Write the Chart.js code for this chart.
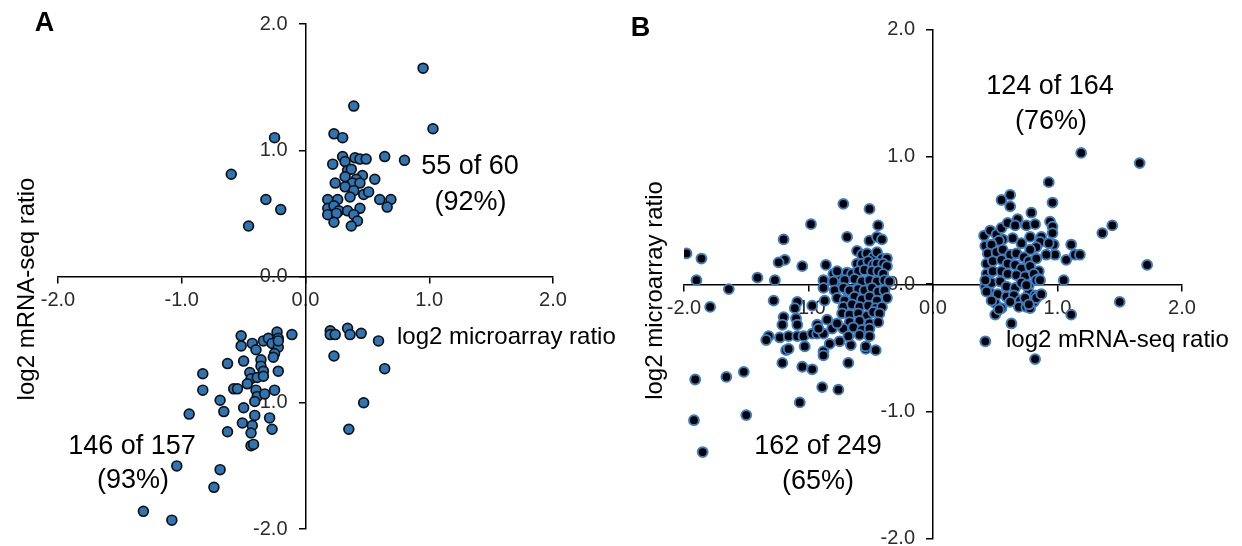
<!DOCTYPE html>
<html><head><meta charset="utf-8">
<script src="https://cdn.jsdelivr.net/npm/chart.js@4.4.1/dist/chart.umd.min.js"></script>
<style>
html,body{margin:0;padding:0;background:#fff;overflow:hidden;width:1242px;height:546px}
#wa,#wb{position:absolute;top:0;width:621px;height:570px}
#wa{left:0}#wb{left:621px}
</style></head><body>
<div id="wa"><canvas id="ca" width="621" height="570"></canvas></div>
<div id="wb"><canvas id="cb" width="621" height="570"></canvas></div>
<script>
// ---------- DATA ----------
const tickValues = [-2, -1, 0, 1, 2];

// Panel A: x = log2 microarray ratio, y = log2 mRNA-seq ratio
const panelA_upperRight = [[0.23,1.13],[0.30,1.10],[0.30,0.95],[0.22,0.89],[0.32,0.91],[0.40,0.94],[0.44,0.93],[0.49,0.93],[0.64,0.95],[0.80,0.92],[0.34,0.84],[0.37,0.85],[0.32,0.79],[0.46,0.80],[0.56,0.77],[0.41,0.77],[0.24,0.74],[0.38,0.74],[0.32,0.71],[0.44,0.74],[0.39,0.68],[0.47,0.65],[0.51,0.67],[0.36,0.63],[0.18,0.61],[0.26,0.61],[0.60,0.61],[0.69,0.61],[0.66,0.55],[0.18,0.54],[0.23,0.56],[0.27,0.52],[0.34,0.52],[0.44,0.54],[0.18,0.49],[0.25,0.50],[0.39,0.49],[0.23,0.43],[0.42,0.44],[0.37,0.40],[0.95,1.65],[0.39,1.35],[1.03,1.17]];
const panelA_upperLeft = [[-0.25,1.10],[-0.60,0.81],[-0.32,0.61],[-0.20,0.53],[-0.46,0.40]];
const panelA_lowerRight = [[0.20,-0.43],[0.20,-0.46],[0.24,-0.46],[0.34,-0.41],[0.36,-0.46],[0.45,-0.45],[0.59,-0.51],[0.23,-0.63],[0.64,-0.73],[0.47,-1.00],[0.35,-1.21]];
const panelA_lowerLeft = [[-0.52,-0.47],[-0.52,-0.55],[-0.43,-0.53],[-0.40,-0.58],[-0.34,-0.51],[-0.30,-0.49],[-0.23,-0.44],[-0.22,-0.49],[-0.27,-0.53],[-0.22,-0.56],[-0.22,-0.51],[-0.25,-0.61],[-0.26,-0.64],[-0.11,-0.46],[-0.63,-0.69],[-0.50,-0.67],[-0.36,-0.66],[-0.36,-0.71],[-0.83,-0.77],[-0.45,-0.76],[-0.34,-0.75],[-0.22,-0.75],[-0.44,-0.81],[-0.39,-0.80],[-0.34,-0.79],[-0.47,-0.85],[-0.83,-0.90],[-0.58,-0.89],[-0.55,-0.89],[-0.40,-0.90],[-0.39,-0.95],[-0.33,-0.93],[-0.25,-0.90],[-0.69,-0.98],[-0.41,-0.99],[-0.66,-1.07],[-0.50,-1.04],[-0.94,-1.09],[-0.41,-1.10],[-0.29,-1.12],[-0.51,-1.16],[-0.43,-1.18],[-0.27,-1.21],[-0.63,-1.23],[-0.44,-1.24],[-0.44,-1.34],[-0.42,-1.33],[-1.04,-1.50],[-0.69,-1.53],[-0.74,-1.67],[-1.31,-1.86],[-1.08,-1.93]];

// Panel B: x = log2 mRNA-seq ratio, y = log2 microarray ratio
const panelB_left = [[-0.72,0.63],[-0.51,0.59],[-0.98,0.47],[-0.44,0.46],[-0.69,0.37],[-0.51,0.34],[-0.45,0.37],[-0.41,0.35],[-1.20,0.35],[-1.98,0.24],[-1.86,0.20],[-1.19,0.19],[-1.24,0.17],[-1.05,0.14],[-0.86,0.15],[-0.61,0.26],[-1.90,0.03],[-1.41,0.05],[-1.27,0.03],[-1.64,-0.04],[-1.79,-0.18],[-1.28,-0.13],[-1.09,-0.14],[-0.97,-0.17],[-0.88,0.03],[-0.88,-0.03],[-1.20,-0.26],[-1.21,-0.32],[-1.10,-0.27],[-1.09,-0.32],[-1.32,-0.41],[-1.34,-0.44],[-1.23,-0.42],[-1.16,-0.41],[-1.09,-0.41],[-1.04,-0.41],[-0.97,-0.39],[-0.93,-0.39],[-0.88,-0.39],[-1.18,-0.52],[-1.16,-0.51],[-1.03,-0.49],[-0.88,-0.53],[-0.88,-0.56],[-0.83,-0.47],[-0.75,-0.45],[-0.66,-0.48],[-0.54,-0.51],[-0.46,-0.52],[-1.21,-0.62],[-1.05,-0.65],[-0.97,-0.67],[-0.68,-0.62],[-0.89,-0.81],[-0.76,-0.83],[-1.07,-0.93],[-1.52,-0.69],[-1.66,-0.73],[-1.91,-0.75],[-1.92,-1.07],[-1.50,-1.03],[-1.85,-1.32]];
const panelB_leftDense = [[-0.80,0.08],[-0.75,0.07],[-0.69,0.09],[-0.65,0.08],[-0.77,-0.02],[-0.69,-0.05],[-0.57,0.23],[-0.53,0.24],[-0.48,0.21],[-0.45,0.25],[-0.41,0.20],[-0.37,0.20],[-0.61,0.16],[-0.57,0.16],[-0.52,0.18],[-0.48,0.15],[-0.45,0.16],[-0.40,0.16],[-0.37,0.14],[-0.77,0.10],[-0.60,0.10],[-0.55,0.11],[-0.49,0.10],[-0.44,0.10],[-0.40,0.08],[-0.80,0.02],[-0.71,0.03],[-0.63,0.04],[-0.57,0.02],[-0.51,0.03],[-0.45,0.02],[-0.39,0.03],[-0.35,0.02],[-0.79,-0.05],[-0.72,-0.03],[-0.67,-0.05],[-0.60,-0.04],[-0.55,-0.05],[-0.49,-0.03],[-0.44,-0.06],[-0.39,-0.05],[-0.77,-0.11],[-0.71,-0.13],[-0.63,-0.10],[-0.57,-0.12],[-0.51,-0.10],[-0.45,-0.13],[-0.37,-0.11],[-0.72,-0.18],[-0.65,-0.16],[-0.59,-0.18],[-0.52,-0.17],[-0.46,-0.19],[-0.41,-0.18],[-0.73,-0.23],[-0.67,-0.24],[-0.60,-0.23],[-0.53,-0.25],[-0.48,-0.22],[-0.43,-0.23],[-0.67,-0.30],[-0.59,-0.29],[-0.51,-0.31],[-0.44,-0.30],[-0.72,-0.35],[-0.64,-0.34],[-0.57,-0.36],[-0.51,-0.35],[-0.68,-0.41],[-0.59,-0.40],[-0.51,-0.41],[-0.54,-0.49],[-1.11,-0.19],[-0.87,-0.13],[-0.93,-0.32],[-0.92,-0.35],[-0.81,-0.35],[-0.77,-0.31],[-0.85,-0.28]];
const panelB_right = [[1.19,1.03],[1.66,0.95],[0.93,0.80],[0.96,0.64],[0.55,0.66],[0.62,0.70],[0.62,0.61],[0.79,0.56],[1.36,0.40],[1.44,0.46],[1.72,0.15],[1.50,-0.14],[1.11,-0.24],[1.05,0.03],[0.63,-0.31],[0.42,-0.45],[0.82,-0.59],[1.07,0.19],[1.14,0.23],[1.18,0.23],[1.11,0.31],[0.98,0.23],[0.91,0.23],[0.94,0.49],[0.96,0.45],[0.96,0.40],[0.97,0.31],[0.41,0.38],[0.46,0.42],[0.51,0.39],[0.55,0.44],[0.60,0.48],[0.68,0.51],[0.75,0.46],[0.82,0.47],[0.66,0.46],[0.87,0.37],[0.86,0.33],[0.93,0.32],[0.78,0.37],[0.71,0.32],[0.64,0.36],[0.56,0.35],[0.53,0.34],[0.83,0.29],[0.78,0.27],[0.42,0.30],[0.47,0.31]];
const panelB_rightDense = [[0.44,0.24],[0.51,0.25],[0.56,0.27],[0.62,0.23],[0.67,0.24],[0.73,0.21],[0.77,0.18],[0.83,0.20],[0.43,0.16],[0.48,0.18],[0.55,0.19],[0.60,0.16],[0.66,0.15],[0.71,0.12],[0.78,0.14],[0.85,0.10],[0.43,0.08],[0.48,0.10],[0.55,0.10],[0.60,0.08],[0.67,0.07],[0.74,0.06],[0.81,0.08],[0.85,0.04],[0.42,-0.02],[0.47,0.01],[0.54,0.02],[0.59,-0.02],[0.66,-0.03],[0.71,0.01],[0.77,-0.01],[0.83,0.03],[0.46,-0.07],[0.52,-0.08],[0.59,-0.10],[0.65,-0.09],[0.70,-0.13],[0.77,-0.07],[0.82,-0.09],[0.85,-0.09],[0.50,-0.15],[0.55,-0.19],[0.62,-0.14],[0.69,-0.18],[0.75,-0.18],[0.81,-0.14],[0.50,-0.24],[0.53,-0.20],[0.43,-0.06],[0.42,0.03],[0.47,-0.13],[0.86,0.03],[0.75,-0.01],[0.74,-0.11],[0.83,-0.11],[0.87,-0.08],[0.78,-0.19],[0.77,-0.16]];

// ---------- RENDERING ----------
const FONT = '"Liberation Sans", Arial, Helvetica, sans-serif';
const toXY = arr => arr.map(p => ({x: p[0], y: p[1]}));

const textPlugin = {
  id: 'txt',
  afterDraw(chart, args, opts) {
    const ctx = chart.ctx;
    for (const t of opts.items) {
      ctx.save();
      ctx.font = t.font;
      ctx.fillStyle = t.color || '#000';
      ctx.textAlign = t.align || 'center';
      ctx.textBaseline = t.baseline || 'middle';
      ctx.translate(t.x, t.y);
      if (t.rot) ctx.rotate(t.rot);
      ctx.fillText(t.text, 0, 0);
      ctx.restore();
    }
  }
};

function axisOpts() {
  return {
    type: 'linear', position: 'center', min: -2, max: 2,
    afterBuildTicks: s => { s.ticks = tickValues.map(v => ({value: v})); },
    ticks: {
      callback: v => Number(v).toFixed(1),
      font: {family: FONT, size: 20}, color: '#2b2b2b', padding: 6,
      maxRotation: 0, autoSkip: false
    },
    grid: {drawOnChartArea: false, drawTicks: true, tickLength: 6, color: '#000', lineWidth: 1.5},
    border: {display: true, color: '#000', width: 1.5}
  };
}
function makeOpts(pad, items) {
  const x = axisOpts(), y = axisOpts();
  y.ticks.padding = 12;
  return {
    responsive: false, animation: false, events: [],
    layout: {padding: pad},
    plugins: {legend: {display: false}, tooltip: {enabled: false}, txt: {items}},
    scales: {x, y}
  };
}

const big = '27px ' + FONT, mid = '24px ' + FONT, bold = 'bold 27px ' + FONT;

new Chart(document.getElementById('ca'), {
  type: 'scatter',
  data: {datasets: [{
    data: toXY([...panelA_upperRight, ...panelA_upperLeft, ...panelA_lowerRight, ...panelA_lowerLeft]),
    backgroundColor: '#2E75B6', borderColor: '#111', borderWidth: 1.7, pointRadius: 4.9
  }]},
  options: makeOpts({left: 58, right: 68, top: 23.7, bottom: 41}, [
    {text: 'A', x: 44.5, y: 24, font: bold},
    {text: '55 of 60', x: 470, y: 167, font: big},
    {text: '(92%)', x: 470.5, y: 203, font: big},
    {text: '146 of 157', x: 132, y: 447, font: big},
    {text: '(93%)', x: 133, y: 481, font: big},
    {text: 'log2 microarray ratio', x: 397, y: 337, font: mid, align: 'left'},
    {text: 'log2 mRNA-seq ratio', x: 27, y: 289, font: mid, rot: -Math.PI / 2}
  ])
  , plugins: [textPlugin]
});

new Chart(document.getElementById('cb'), {
  type: 'scatter',
  data: {datasets: [{
    data: toXY([...panelB_left, ...panelB_leftDense, ...panelB_right, ...panelB_rightDense]),
    backgroundColor: '#000', borderColor: '#3C7DC4', borderWidth: 2, pointRadius: 4.9
  }]},
  options: makeOpts({left: 63, right: 60, top: 29.4, bottom: 31.4}, [
    {text: 'B', x: 19.5, y: 29, font: bold},
    {text: '124 of 164', x: 429, y: 87, font: big},
    {text: '(76%)', x: 430, y: 122, font: big},
    {text: '162 of 249', x: 197, y: 447, font: big},
    {text: '(65%)', x: 197, y: 482, font: big},
    {text: 'log2 mRNA-seq ratio', x: 385, y: 340, font: mid, align: 'left'},
    {text: 'log2 microarray ratio', x: 34.6, y: 290.5, font: mid, rot: -Math.PI / 2}
  ])
  , plugins: [textPlugin]
});
</script>
</body></html>
